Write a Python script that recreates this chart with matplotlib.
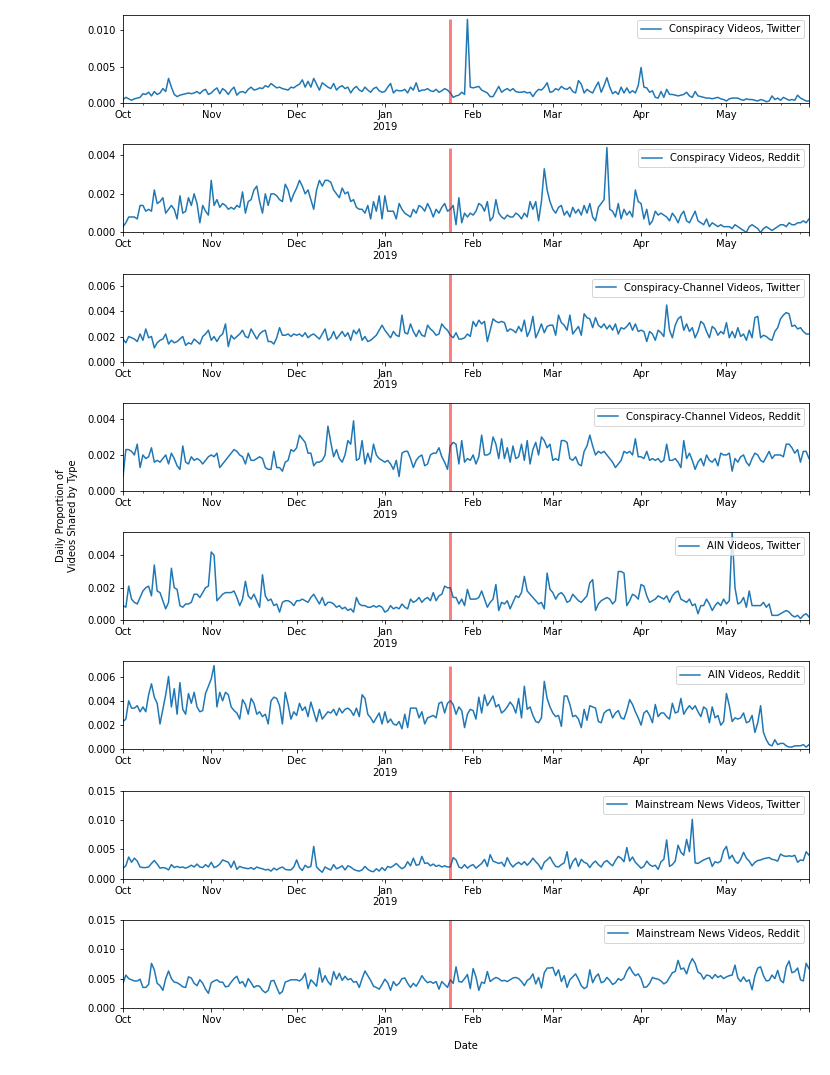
import matplotlib
matplotlib.use("Agg")
import matplotlib.pyplot as plt
from matplotlib.ticker import MultipleLocator
import pandas as pd

# daily dates, Oct 1 2018 - May 30 2019
dates = pd.date_range("2018-10-01", "2019-05-30", freq="D")
event_date = "2019-01-24"

labels = [
    "Conspiracy Videos, Twitter",
    "Conspiracy Videos, Reddit",
    "Conspiracy-Channel Videos, Twitter",
    "Conspiracy-Channel Videos, Reddit",
    "AIN Videos, Twitter",
    "AIN Videos, Reddit",
    "Mainstream News Videos, Twitter",
    "Mainstream News Videos, Reddit",
]

# values in units of 1e-4 (first six) and 1e-3 (mainstream)
consp_twitter = [
    5, 8, 6, 4, 6, 7, 8, 13, 12, 15, 10, 16, 12, 14, 20, 16, 34, 22, 12, 9, 11, 12, 13, 14, 13, 14, 16, 13, 17, 19, 12,
    14, 18, 21, 13, 20, 17, 12, 18, 22, 11, 15, 16, 14, 19, 22, 18, 19, 21, 20, 24, 22, 27, 24, 21, 22, 20, 19, 18, 22, 21,
    24, 26, 32, 22, 30, 22, 34, 26, 18, 28, 25, 22, 20, 27, 18, 22, 24, 20, 22, 14, 20, 23, 18, 16, 22, 18, 15, 20, 22, 17, 15,
    16, 22, 27, 14, 18, 17, 17, 19, 14, 22, 18, 28, 16, 18, 18, 20, 17, 16, 19, 15, 17, 20, 18, 14, 8, 10, 11, 15, 12, 115, 22,
    21, 22, 23, 18, 16, 14, 9, 9, 16, 23, 15, 18, 20, 17, 20, 16, 15, 15, 16, 14, 15, 9, 15, 19, 18, 22, 28, 15,
    16, 20, 18, 23, 20, 19, 22, 16, 14, 31, 26, 14, 19, 16, 14, 22, 29, 15, 24, 35, 22, 13, 16, 12, 22, 14, 21, 14, 17, 14, 24,
    49, 22, 21, 15, 17, 8, 7, 16, 8, 19, 12, 12, 11, 10, 11, 12, 15, 10, 8, 16, 10, 9, 8, 7, 7, 6, 7, 8, 6, 5,
    3, 6, 7, 7, 7, 5, 4, 6, 5, 5, 4, 3, 5, 4, 2, 3, 10, 5, 7, 4, 8, 6, 4, 5, 4, 11, 7, 5, 3, 3,
]
consp_reddit = [
    3, 5, 8, 8, 8, 7, 14, 14, 11, 12, 11, 22, 15, 16, 18, 10, 12, 14, 12, 7, 19, 10, 11, 18, 14, 20, 15, 5, 14, 11, 9,
    27, 14, 17, 13, 15, 14, 12, 13, 12, 14, 13, 21, 10, 16, 17, 22, 24, 16, 10, 20, 14, 20, 20, 19, 17, 16, 25, 22, 16, 20,
    23, 27, 24, 20, 22, 17, 12, 22, 27, 24, 27, 27, 26, 22, 20, 18, 23, 20, 21, 16, 17, 13, 12, 12, 10, 14, 7, 16, 11, 19, 7,
    19, 11, 11, 11, 7, 15, 12, 10, 9, 8, 12, 10, 14, 13, 11, 15, 12, 8, 12, 10, 13, 15, 11, 12, 14, 4, 18, 5, 10, 8, 10,
    9, 11, 15, 14, 11, 16, 6, 8, 17, 10, 8, 7, 9, 8, 8, 10, 9, 7, 10, 8, 16, 12, 16, 6, 16, 33, 22, 16,
    12, 10, 13, 14, 9, 11, 8, 13, 10, 12, 9, 14, 10, 15, 8, 6, 13, 15, 17, 44, 12, 11, 8, 15, 7, 12, 9, 11, 8, 22, 16,
    15, 7, 12, 4, 6, 11, 9, 10, 9, 8, 6, 10, 8, 5, 9, 11, 6, 5, 8, 11, 6, 5, 4, 7, 3, 5, 4, 3, 4, 3,
    3, 3, 2, 4, 3, 2, 1, 0, 3, 4, 3, 2, 0, 2, 3, 2, 1, 2, 3, 4, 4, 3, 5, 4, 4, 5, 5, 6, 5, 7,
]
channel_twitter = [
    18, 15, 20, 19, 18, 16, 22, 17, 26, 19, 20, 11, 15, 17, 18, 22, 14, 17, 15, 16, 18, 20, 13, 15, 14, 18, 16, 14, 20, 22, 25,
    17, 20, 16, 20, 22, 30, 12, 21, 18, 20, 22, 25, 20, 19, 26, 22, 18, 22, 24, 25, 16, 16, 14, 19, 27, 21, 21, 22, 20, 22,
    21, 22, 20, 23, 19, 21, 22, 20, 18, 22, 26, 17, 19, 24, 18, 21, 24, 20, 23, 17, 25, 22, 26, 17, 20, 16, 17, 19, 21, 25, 29,
    25, 22, 19, 24, 21, 20, 37, 23, 22, 30, 24, 20, 25, 21, 20, 29, 26, 24, 21, 22, 30, 27, 25, 21, 19, 23, 18, 18, 19, 22, 20,
    32, 28, 33, 30, 32, 16, 25, 34, 32, 31, 32, 31, 24, 26, 25, 23, 28, 24, 33, 20, 25, 36, 19, 24, 30, 23, 28, 29,
    29, 21, 37, 31, 29, 25, 37, 22, 25, 28, 21, 38, 35, 34, 27, 35, 29, 27, 30, 26, 29, 25, 30, 22, 27, 26, 28, 31, 25, 30, 24,
    25, 24, 16, 24, 22, 17, 25, 23, 20, 45, 25, 19, 29, 34, 36, 25, 30, 24, 27, 19, 24, 32, 30, 24, 19, 28, 26, 21, 24, 22,
    31, 19, 24, 19, 27, 20, 22, 17, 25, 19, 35, 36, 19, 21, 20, 18, 17, 24, 27, 34, 37, 39, 38, 28, 29, 26, 27, 24, 22, 22,
]
channel_reddit = [
    8, 23, 23, 22, 20, 26, 13, 20, 18, 19, 24, 16, 17, 16, 18, 20, 15, 21, 18, 14, 12, 25, 16, 15, 19, 17, 18, 17, 15, 17, 19,
    20, 19, 21, 13, 15, 17, 19, 21, 23, 22, 20, 19, 15, 21, 17, 17, 18, 19, 18, 13, 12, 12, 22, 13, 13, 11, 16, 17, 23, 22,
    24, 31, 29, 27, 21, 21, 14, 16, 16, 17, 20, 36, 27, 19, 23, 18, 16, 20, 28, 26, 39, 17, 18, 28, 15, 21, 16, 26, 20, 18, 17,
    16, 17, 15, 12, 17, 8, 21, 22, 22, 18, 13, 17, 19, 20, 14, 15, 20, 21, 21, 24, 19, 16, 12, 25, 27, 26, 15, 28, 16, 18, 17,
    20, 15, 19, 31, 20, 20, 21, 30, 26, 18, 29, 18, 24, 16, 25, 18, 19, 26, 17, 28, 15, 23, 27, 20, 30, 28, 24, 26,
    17, 18, 17, 28, 28, 27, 18, 17, 19, 15, 14, 22, 25, 31, 25, 20, 22, 21, 22, 20, 18, 16, 13, 15, 17, 22, 21, 22, 20, 29, 19,
    19, 18, 22, 17, 18, 17, 18, 16, 17, 26, 17, 17, 18, 16, 13, 28, 18, 21, 17, 12, 16, 18, 14, 20, 17, 16, 18, 14, 21, 20,
    20, 21, 11, 18, 16, 19, 20, 16, 14, 18, 21, 20, 17, 16, 19, 22, 18, 20, 20, 20, 19, 26, 26, 24, 21, 23, 16, 22, 22, 18,
]
ain_twitter = [
    9, 8, 21, 13, 11, 10, 14, 18, 20, 21, 15, 34, 18, 17, 12, 7, 11, 32, 20, 19, 9, 8, 10, 10, 11, 16, 16, 14, 17, 20, 21,
    42, 40, 12, 14, 16, 17, 17, 17, 18, 14, 9, 13, 24, 15, 13, 16, 12, 8, 28, 15, 12, 13, 9, 10, 5, 11, 12, 12, 11, 9,
    12, 12, 13, 12, 11, 14, 16, 13, 10, 14, 9, 11, 11, 10, 8, 9, 7, 8, 6, 7, 5, 14, 10, 9, 9, 8, 8, 9, 8, 9, 8,
    5, 6, 9, 7, 8, 7, 10, 8, 7, 13, 11, 12, 14, 11, 13, 14, 12, 17, 12, 15, 16, 21, 20, 20, 14, 14, 10, 13, 9, 19, 13,
    13, 13, 14, 18, 13, 8, 11, 13, 22, 6, 11, 10, 12, 7, 11, 15, 14, 17, 27, 18, 16, 14, 12, 10, 11, 7, 29, 19,
    17, 13, 16, 17, 15, 11, 12, 16, 14, 12, 11, 13, 15, 23, 25, 6, 10, 12, 13, 14, 13, 10, 12, 30, 30, 29, 9, 12, 16, 15, 13,
    22, 21, 15, 11, 12, 13, 15, 14, 13, 15, 11, 15, 17, 18, 13, 12, 11, 13, 9, 10, 4, 9, 9, 13, 10, 6, 9, 11, 9, 13,
    10, 12, 54, 20, 10, 11, 14, 8, 18, 9, 9, 9, 9, 11, 8, 10, 3, 3, 3, 4, 5, 6, 5, 3, 2, 3, 1, 3, 4, 2,
]
ain_reddit = [
    23, 25, 40, 34, 34, 36, 31, 35, 31, 45, 54, 43, 38, 21, 33, 45, 60, 35, 50, 29, 55, 33, 29, 46, 38, 47, 35, 31, 32, 46, 52,
    58, 69, 35, 47, 40, 47, 45, 35, 32, 30, 25, 41, 37, 29, 42, 38, 29, 31, 27, 29, 21, 40, 43, 42, 36, 21, 47, 37, 25, 31,
    28, 38, 32, 35, 27, 39, 31, 23, 33, 25, 28, 31, 30, 33, 28, 34, 30, 33, 34, 32, 28, 34, 27, 45, 42, 29, 26, 22, 26, 30, 21,
    31, 22, 25, 21, 20, 23, 17, 29, 18, 34, 34, 34, 26, 31, 21, 26, 27, 28, 26, 38, 39, 30, 38, 40, 37, 29, 35, 32, 18, 29, 33,
    32, 25, 43, 30, 45, 36, 40, 44, 35, 37, 30, 32, 35, 39, 36, 30, 42, 26, 52, 33, 35, 28, 23, 22, 26, 56, 42, 35,
    30, 27, 28, 19, 44, 44, 37, 27, 28, 25, 18, 33, 24, 36, 35, 34, 23, 22, 30, 32, 33, 26, 30, 32, 26, 25, 32, 41, 37, 31, 26,
    20, 30, 32, 28, 22, 37, 27, 30, 30, 27, 25, 38, 30, 31, 42, 29, 33, 36, 33, 36, 31, 27, 35, 33, 22, 35, 26, 28, 20, 23,
    46, 36, 23, 26, 25, 26, 30, 22, 23, 28, 14, 22, 36, 14, 8, 4, 3, 8, 4, 5, 5, 3, 2, 2, 3, 3, 3, 4, 2, 4,
]
news_twitter = [
    1.8, 2.2, 3.7, 2.8, 3.5, 3.0, 2.0, 1.9, 1.9, 2.0, 2.6, 3.1, 2.5, 1.8, 1.9, 1.8, 1.5, 2.4, 1.9, 2.1, 1.9, 2.0, 1.8, 2.0, 2.3, 2.0, 2.5, 2.0, 1.9, 2.4, 2.0,
    2.8, 1.9, 2.1, 2.5, 3.2, 3.0, 2.8, 1.9, 3.0, 1.6, 2.1, 1.9, 1.8, 1.7, 1.9, 1.6, 2.0, 1.8, 1.7, 1.5, 1.6, 1.3, 1.8, 1.5, 1.8, 2.0, 1.6, 1.5, 1.5, 2.0,
    3.2, 1.9, 1.4, 2.3, 1.9, 2.1, 5.5, 2.0, 1.5, 1.1, 2.0, 1.7, 1.5, 2.4, 1.7, 1.9, 2.2, 1.5, 2.2, 2.0, 1.6, 1.4, 1.3, 1.5, 2.1, 1.6, 1.3, 1.2, 1.7, 1.3, 1.9,
    1.4, 2.1, 1.9, 2.2, 2.6, 2.1, 1.7, 2.0, 2.9, 2.2, 3.5, 2.3, 2.4, 3.8, 2.6, 2.7, 2.2, 2.5, 2.1, 2.3, 2.0, 2.2, 2.0, 2.0, 3.6, 3.2, 2.0, 1.8, 2.4, 1.8, 2.2,
    2.4, 1.8, 2.2, 2.6, 3.3, 2.1, 4.1, 3.0, 2.8, 2.6, 2.8, 2.1, 3.6, 2.6, 2.0, 2.5, 2.8, 2.4, 2.9, 2.3, 2.8, 3.5, 2.9, 2.4, 1.6, 2.8, 3.2, 3.7,
    2.8, 2.1, 2.0, 2.4, 2.7, 4.6, 1.7, 2.9, 3.5, 2.1, 3.3, 2.8, 2.6, 1.9, 2.6, 3.0, 2.4, 2.0, 2.8, 3.1, 2.6, 2.2, 3.1, 3.8, 3.5, 2.9, 5.3, 3.0, 3.7, 2.8, 2.3,
    1.8, 2.1, 3.0, 2.4, 2.1, 2.3, 1.6, 2.9, 3.3, 6.6, 2.1, 2.4, 3.0, 5.7, 4.5, 4.0, 6.7, 4.6, 10.1, 2.7, 2.6, 2.9, 3.2, 3.4, 3.6, 2.1, 2.9, 2.7, 3.0, 4.8,
    5.5, 3.4, 4.0, 3.0, 2.6, 3.3, 4.5, 3.5, 3.0, 2.2, 2.8, 3.1, 3.2, 3.4, 3.5, 3.6, 3.3, 3.2, 3.0, 4.2, 3.9, 3.8, 3.9, 3.8, 4.0, 2.8, 3.2, 3.1, 4.6, 4.0,
]
news_reddit = [
    4.2, 5.6, 5.0, 4.8, 4.6, 4.6, 4.9, 3.5, 3.5, 4.0, 7.6, 6.5, 4.2, 3.8, 3.0, 5.0, 6.3, 5.0, 4.4, 4.3, 4.0, 3.6, 3.5, 5.3, 5.1, 4.2, 3.8, 4.8, 4.2, 3.2, 2.5,
    4.3, 4.6, 4.8, 4.4, 4.4, 3.6, 3.7, 4.4, 5.0, 5.4, 4.2, 4.5, 3.6, 5.0, 4.3, 3.5, 3.8, 3.7, 3.0, 2.6, 3.0, 4.6, 4.7, 3.5, 2.4, 2.8, 4.4, 4.6, 4.8, 4.8,
    4.8, 4.6, 5.0, 5.9, 3.3, 4.8, 4.3, 3.7, 6.8, 4.4, 5.5, 4.5, 3.9, 6.2, 4.9, 5.9, 4.7, 5.4, 4.8, 5.0, 4.4, 4.5, 3.5, 5.0, 6.3, 5.5, 4.7, 3.7, 3.5, 3.2, 4.0,
    4.9, 4.3, 3.0, 4.5, 3.8, 4.2, 5.0, 5.1, 4.2, 3.5, 4.2, 3.7, 4.5, 5.5, 4.8, 4.3, 4.5, 4.2, 4.5, 3.2, 4.5, 4.0, 3.5, 4.8, 4.2, 7.0, 4.5, 4.4, 5.0, 5.7, 3.3,
    6.7, 5.3, 3.0, 4.4, 4.2, 6.2, 4.5, 4.9, 5.2, 5.0, 4.6, 4.7, 4.5, 4.8, 5.1, 5.2, 5.0, 4.5, 3.8, 4.7, 5.0, 5.8, 4.1, 5.2, 3.4, 6.0, 6.8, 6.8,
    6.9, 5.5, 6.5, 4.5, 5.5, 3.5, 4.8, 5.3, 5.8, 4.9, 3.8, 3.3, 3.6, 6.5, 4.3, 5.3, 5.8, 4.3, 4.5, 5.2, 4.7, 4.0, 4.3, 5.0, 4.7, 5.1, 6.3, 7.0, 6.1, 5.5, 5.8,
    5.0, 3.5, 3.6, 4.2, 5.2, 5.0, 4.9, 4.6, 4.1, 4.4, 5.2, 6.0, 6.2, 8.1, 6.6, 6.8, 5.8, 7.4, 8.4, 7.6, 6.1, 5.8, 4.9, 5.6, 5.5, 5.0, 5.7, 5.2, 5.5, 5.0,
    5.3, 5.5, 5.6, 7.3, 5.1, 4.5, 5.3, 4.5, 4.8, 3.1, 5.5, 6.8, 7.0, 5.5, 4.6, 4.7, 5.6, 5.0, 6.4, 4.7, 4.3, 7.0, 8.0, 6.0, 6.2, 6.8, 4.8, 4.6, 7.6, 6.7,
]

series = [consp_twitter, consp_reddit, channel_twitter, channel_reddit,
          ain_twitter, ain_reddit, news_twitter, news_reddit]
scales = [1e-4] * 6 + [1e-3] * 2

# axis setup per panel
ylim_top = [0.0121, 0.00457, 0.0070, 0.0049, 0.00543, 0.00725, 0.015, 0.015]
ytick_step = [0.005, 0.002, 0.002, 0.002, 0.002, 0.002, 0.005, 0.005]
red_to_max = [True, True, False, False, False, True, False, False]

fig, axes = plt.subplots(8, 1, figsize=(830 / 72, 1075 / 72), dpi=72)
fig.subplots_adjust(left=123 / 830, right=809 / 830, top=1 - 15 / 1075,
                    bottom=1 - 1008 / 1075, hspace=41 / 88)

event_x = pd.Period(event_date, freq="D").ordinal

for i, ax in enumerate(axes):
    vals = series[i]
    if len(vals) != len(dates):
        raise ValueError(f"{labels[i]}: {len(vals)} values")
    s = pd.Series([v * scales[i] for v in vals], index=dates)
    s.plot(ax=ax, color="#1f77b4", lw=1.5, label=labels[i])
    ax.set_ylim(0, ylim_top[i])
    ax.yaxis.set_major_locator(MultipleLocator(ytick_step[i]))
    top = s.max() if red_to_max[i] else ylim_top[i]
    ax.vlines(event_x, 0, top, color="red", alpha=0.5, lw=3)
    ax.legend(loc="upper right")
    ax.set_xlabel("")

axes[-1].set_xlabel("Date")
fig.text(67 / 830, 1 - 516 / 1075, "Daily Proportion of\nVideos Shared by Type",
         rotation=90, ha="center", va="center", fontsize=10)

fig.savefig("out.png", dpi=72)
